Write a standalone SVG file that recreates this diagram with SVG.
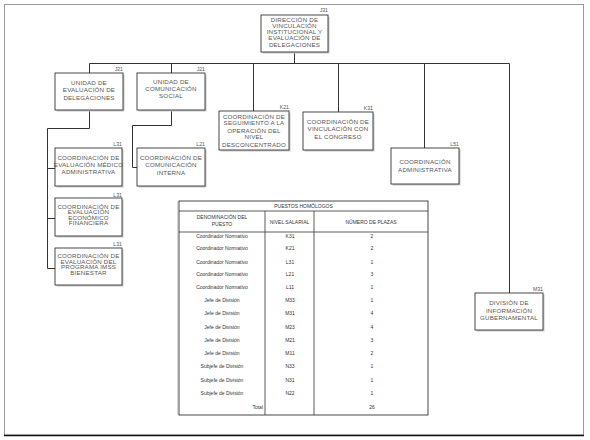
<svg xmlns="http://www.w3.org/2000/svg" width="590" height="440" viewBox="0 0 590 440">
<style>
.box{fill:#fff;stroke:#333;stroke-width:0.9}
.sh{fill:#c8c8c8}
.t{font-family:"Liberation Sans",Arial,sans-serif;font-size:6.2px;fill:#555;text-anchor:middle;letter-spacing:0.2px}
.lv{font-family:"Liberation Sans",Arial,sans-serif;font-size:5.2px;fill:#555;text-anchor:end}
.c{fill:none;stroke:#333;stroke-width:1}
.tb{font-family:"Liberation Sans",Arial,sans-serif;font-size:5px;fill:#333;text-anchor:middle}
.tl{fill:none;stroke:#333;stroke-width:0.8}
</style>
<rect x="0" y="0" width="590" height="440" fill="#fff"/>
<rect x="4.5" y="4.5" width="579" height="430.5" fill="none" stroke="#999" stroke-width="1"/>
<line x1="4" y1="435.5" x2="584" y2="435.5" stroke="#111" stroke-width="1.5"/>

<g id="connectors">
<path class="c" d="M294.5 52V63.5M89.5 63.5H509.5M89.5 63.5V73M171.5 63.5V73M253.5 63.5V111M338.5 63.5V112M424.5 63.5V148M509.5 63.5V293"/>
<path class="c" d="M89.5 110V128.5H47.5V268.5H55M47.5 168.5H55M47.5 218.5H55"/>
<path class="c" d="M171.5 110V125.5H132.5V167.5H137"/>
</g>

<g id="n-direccion">
<rect class="sh" x="262.5" y="16.5" width="67" height="37"/>
<rect class="box" x="261" y="15" width="67" height="37"/>
<text class="lv" x="328" y="12">J31</text>
<text class="t" x="294.5" y="22">DIRECCIÓN DE</text>
<text class="t" x="294.5" y="28">VINCULACIÓN</text>
<text class="t" x="294.5" y="34">INSTITUCIONAL Y</text>
<text class="t" x="294.5" y="40">EVALUACIÓN DE</text>
<text class="t" x="294.5" y="46.5">DELEGACIONES</text>
</g>

<g id="n-unidad-evaluacion">
<rect class="sh" x="56.5" y="74.5" width="68" height="37"/>
<rect class="box" x="55" y="73" width="68" height="37"/>
<text class="lv" x="123" y="70.5">J21</text>
<text class="t" x="89" y="85">UNIDAD DE</text>
<text class="t" x="89" y="92">EVALUACIÓN DE</text>
<text class="t" x="89" y="99.5">DELEGACIONES</text>
</g>

<g id="n-unidad-comunicacion">
<rect class="sh" x="138.5" y="74.5" width="68" height="37"/>
<rect class="box" x="137" y="73" width="68" height="37"/>
<text class="lv" x="205" y="70.5">J21</text>
<text class="t" x="171" y="84">UNIDAD DE</text>
<text class="t" x="171" y="91">COMUNICACIÓN</text>
<text class="t" x="171" y="97.5">SOCIAL</text>
</g>

<g id="n-seguimiento">
<rect class="sh" x="220.5" y="112.5" width="70" height="39"/>
<rect class="box" x="219" y="111" width="70" height="39"/>
<text class="lv" x="289" y="108.5">K21</text>
<text class="t" x="254" y="118.5">COORDINACIÓN DE</text>
<text class="t" x="254" y="125">SEGUIMIENTO A LA</text>
<text class="t" x="254" y="132.5">OPERACIÓN DEL</text>
<text class="t" x="254" y="138.5">NIVEL</text>
<text class="t" x="254" y="146.5">DESCONCENTRADO</text>
</g>

<g id="n-congreso">
<rect class="sh" x="304.5" y="113.5" width="70" height="38"/>
<rect class="box" x="303" y="112" width="70" height="38"/>
<text class="lv" x="373" y="109.5">K31</text>
<text class="t" x="338" y="124">COORDINACIÓN DE</text>
<text class="t" x="338" y="131">VINCULACIÓN CON</text>
<text class="t" x="338" y="138.5">EL CONGRESO</text>
</g>

<g id="n-coord-administrativa">
<rect class="sh" x="392.5" y="149.5" width="68" height="36"/>
<rect class="box" x="391" y="148" width="68" height="36"/>
<text class="lv" x="459" y="146">L51</text>
<text class="t" x="425" y="164">COORDINACIÓN</text>
<text class="t" x="425" y="172">ADMINISTRATIVA</text>
</g>

<g id="n-informacion-gubernamental">
<rect class="sh" x="476.5" y="294.5" width="68" height="37"/>
<rect class="box" x="475" y="293" width="68" height="37"/>
<text class="lv" x="543" y="291">M31</text>
<text class="t" x="509" y="305">DIVISIÓN DE</text>
<text class="t" x="509" y="312.5">INFORMACIÓN</text>
<text class="t" x="509" y="320">GUBERNAMENTAL</text>
</g>

<g id="n-medico-administrativa">
<rect class="sh" x="56.5" y="149.5" width="67" height="38"/>
<rect class="box" x="55" y="148" width="67" height="38"/>
<text class="lv" x="122" y="146">L31</text>
<text class="t" x="88.5" y="160">COORDINACIÓN DE</text>
<text class="t" x="88.5" y="167">EVALUACIÓN MÉDICO</text>
<text class="t" x="88.5" y="174">ADMINISTRATIVA</text>
</g>

<g id="n-comunicacion-interna">
<rect class="sh" x="138.5" y="149.5" width="68" height="38"/>
<rect class="box" x="137" y="148" width="68" height="38"/>
<text class="lv" x="205" y="146">L21</text>
<text class="t" x="171" y="160">COORDINACIÓN DE</text>
<text class="t" x="171" y="167">COMUNICACIÓN</text>
<text class="t" x="171" y="174.5">INTERNA</text>
</g>

<g id="n-economico-financiera">
<rect class="sh" x="56.5" y="199.5" width="67" height="38"/>
<rect class="box" x="55" y="198" width="67" height="38"/>
<text class="lv" x="122" y="196.5">L31</text>
<text class="t" x="88.5" y="208.5">COORDINACIÓN DE</text>
<text class="t" x="88.5" y="214">EVALUACIÓN</text>
<text class="t" x="88.5" y="219.5">ECONÓMICO</text>
<text class="t" x="88.5" y="225">FINANCIERA</text>
</g>

<g id="n-imss-bienestar">
<rect class="sh" x="56.5" y="249.5" width="67" height="37"/>
<rect class="box" x="55" y="248" width="67" height="37"/>
<text class="lv" x="122" y="246">L31</text>
<text class="t" x="88.5" y="258">COORDINACIÓN DE</text>
<text class="t" x="88.5" y="263.5">EVALUACIÓN DEL</text>
<text class="t" x="88.5" y="269">PROGRAMA IMSS</text>
<text class="t" x="88.5" y="274.5">BIENESTAR</text>
</g>

<g id="tabla-puestos">
<rect x="179" y="201" width="249" height="214" fill="#fff" stroke="#333" stroke-width="0.9"/>
<line x1="178" y1="201" x2="178" y2="415" stroke="#999" stroke-width="0.8"/>
<path class="tl" d="M179 211H428M179 232H428M265 211V415M314 211V415"/>
<text class="tb" x="303.5" y="207.5">PUESTOS HOMÓLOGOS</text>
<text class="tb" x="222" y="219">DENOMINACIÓN DEL</text>
<text class="tb" x="222" y="226">PUESTO</text>
<text class="tb" x="289.5" y="223.5">NIVEL SALARIAL</text>
<text class="tb" x="371" y="223.5">NÚMERO DE PLAZAS</text>
<g>
<text class="tb" x="222" y="237.5">Coordinador Normativo</text><text class="tb" x="290" y="237.5">K31</text><text class="tb" x="372" y="237.5">2</text>
<text class="tb" x="222" y="250">Coordinador Normativo</text><text class="tb" x="290" y="250">K21</text><text class="tb" x="372" y="250">2</text>
<text class="tb" x="222" y="263.5">Coordinador Normativo</text><text class="tb" x="290" y="263.5">L31</text><text class="tb" x="372" y="263.5">1</text>
<text class="tb" x="222" y="276">Coordinador Normativo</text><text class="tb" x="290" y="276">L21</text><text class="tb" x="372" y="276">3</text>
<text class="tb" x="222" y="288.5">Coordinador Normativo</text><text class="tb" x="290" y="288.5">L11</text><text class="tb" x="372" y="288.5">1</text>
<text class="tb" x="222" y="302">Jefe de División</text><text class="tb" x="290" y="302">M33</text><text class="tb" x="372" y="302">1</text>
<text class="tb" x="222" y="315">Jefe de División</text><text class="tb" x="290" y="315">M31</text><text class="tb" x="372" y="315">4</text>
<text class="tb" x="222" y="328.5">Jefe de División</text><text class="tb" x="290" y="328.5">M23</text><text class="tb" x="372" y="328.5">4</text>
<text class="tb" x="222" y="341.5">Jefe de División</text><text class="tb" x="290" y="341.5">M21</text><text class="tb" x="372" y="341.5">3</text>
<text class="tb" x="222" y="355">Jefe de División</text><text class="tb" x="290" y="355">M11</text><text class="tb" x="372" y="355">2</text>
<text class="tb" x="222" y="368">Subjefe de División</text><text class="tb" x="290" y="368">N33</text><text class="tb" x="372" y="368">1</text>
<text class="tb" x="222" y="381.5">Subjefe de División</text><text class="tb" x="290" y="381.5">N31</text><text class="tb" x="372" y="381.5">1</text>
<text class="tb" x="222" y="395">Subjefe de División</text><text class="tb" x="290" y="395">N22</text><text class="tb" x="372" y="395">1</text>
<text class="tb" x="263" y="408.5" style="text-anchor:end">Total</text><text class="tb" x="372" y="408.5">26</text>
</g>
</g>
</svg>
